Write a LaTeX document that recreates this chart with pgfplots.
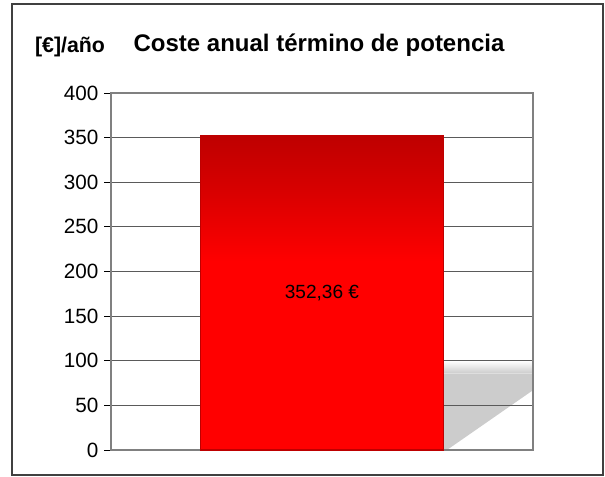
\documentclass[border=0pt]{standalone}
\usepackage{pgfplots}
\pgfplotsset{compat=1.18}
\usepackage{fontspec}
\setmainfont{Liberation Sans}
\usetikzlibrary{fadings}

\definecolor{gridgray}{RGB}{90,90,90}
\definecolor{framegray}{RGB}{128,128,128}
\definecolor{bardark}{RGB}{190,0,0}
% pgf fits the bar into the middle 25bp..75bp band of the shading
\pgfdeclareverticalshading{barshade}{100bp}{color(0bp)=(red); color(25bp)=(red); color(55bp)=(red); color(66bp)=(red!85!black); color(75bp)=(bardark); color(100bp)=(bardark)}

\begin{document}
\begin{tikzpicture}
\begin{axis}[
    set layers,
    width=316.5pt, height=267.75pt,
    scale only axis,
    xmin=-0.5, xmax=0.5,
    ymin=0, ymax=400,
    ytick={0,50,...,400},
    xtick=\empty,
    ytick pos=left,
    ymajorgrids,
    grid style={gridgray, line width=0.7pt},
    axis line style={framegray, line width=1.4pt},
    y tick style={black, line width=0.6pt},
    major tick length=5pt,
    tick align=outside,
    yticklabel style={font=\fontsize{15.5}{18}\selectfont, xshift=-1pt},
    /pgf/number format/assume math mode=true,
    clip=false,
]
% cast shadow behind the bar
\begin{pgfonlayer}{axis background}
\fill[gray!40, path fading=north] (axis cs:0.289,86) rectangle (axis cs:0.5,100);
\fill[gray!40] (axis cs:0.289,86) -- (axis cs:0.5,86) -- (axis cs:0.5,67)
   -- (axis cs:0.296,0) -- (axis cs:0.289,0) -- cycle;
\end{pgfonlayer}
\addplot[ybar, bar width=182.25pt, draw=bardark, line width=1pt, shading=barshade]
  coordinates {(0,352.36)};
\node[font=\fontsize{14.3}{17}\selectfont] at (axis cs:0,176.18) {352,36 €};
\node[font=\bfseries\fontsize{18}{21}\selectfont] at ([xshift=-2.25pt, yshift=36pt]rel axis cs:0.5,1) {Coste anual término de potencia};
\node[font=\bfseries\fontsize{16}{19}\selectfont] at ([xshift=-30.75pt, yshift=34.5pt]rel axis cs:0,1) {[€]/año};
\draw[black!75, line width=0.8pt] ([xshift=-74.25pt, yshift=66.75pt]rel axis cs:0,1) rectangle ([xshift=52.5pt, yshift=-18.75pt]rel axis cs:1,0);
\path ([xshift=-83.25pt, yshift=69.75pt]rel axis cs:0,1) rectangle ([xshift=54pt, yshift=-19.5pt]rel axis cs:1,0);
\end{axis}
\end{tikzpicture}
\end{document}
